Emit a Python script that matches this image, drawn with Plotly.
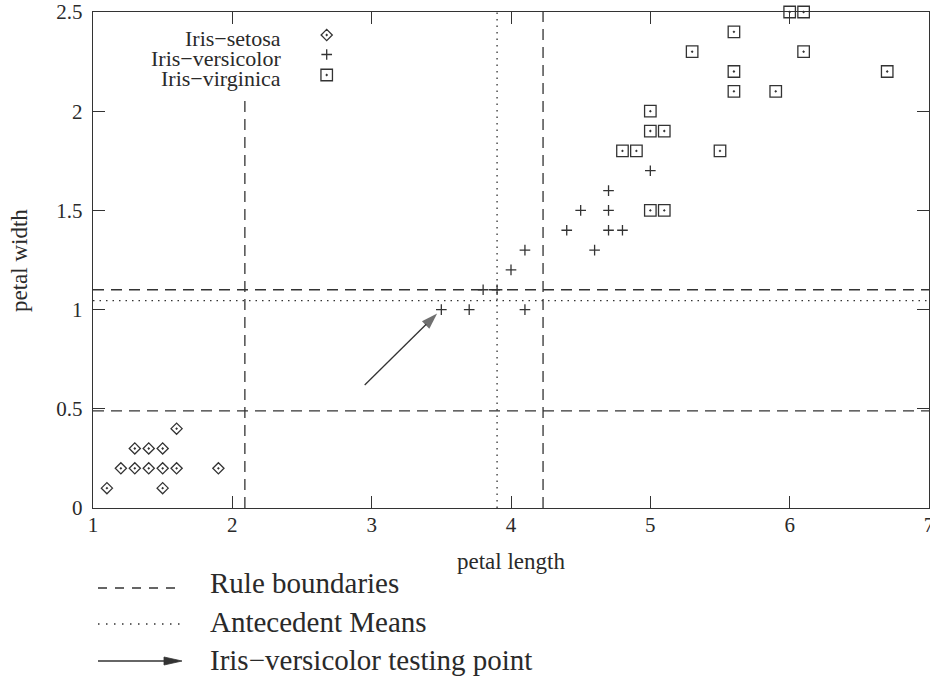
import plotly.graph_objects as go

# ---------------- data ----------------
setosa_x = [1.1, 1.5, 1.2, 1.3, 1.4, 1.5, 1.6, 1.9, 1.3, 1.4, 1.5, 1.6]
setosa_y = [0.1, 0.1, 0.2, 0.2, 0.2, 0.2, 0.2, 0.2, 0.3, 0.3, 0.3, 0.4]

versicolor_x = [3.5, 3.7, 4.1, 3.8, 3.9, 4.0, 4.1, 4.6, 4.4, 4.7, 4.8, 4.5, 4.7, 4.7, 5.0]
versicolor_y = [1.0, 1.0, 1.0, 1.1, 1.1, 1.2, 1.3, 1.3, 1.4, 1.4, 1.4, 1.5, 1.5, 1.6, 1.7]

virginica_x = [6.0, 6.1, 5.6, 5.3, 6.1, 5.6, 6.7, 5.6, 5.9, 5.0, 5.0, 5.1, 4.8, 4.9, 5.5, 5.0, 5.1]
virginica_y = [2.5, 2.5, 2.4, 2.3, 2.3, 2.2, 2.2, 2.1, 2.1, 2.0, 1.9, 1.9, 1.8, 1.8, 1.8, 1.5, 1.5]

species_names = ["Iris\u2212setosa", "Iris\u2212versicolor", "Iris\u2212virginica"]

# rule boundaries: vertical lines (x, top y) and horizontal lines (y)
rule_vx = [2.09, 4.23]
rule_vtop = [2.07, 2.5]
rule_hy = [0.49, 1.1]

# antecedent means
mean_x = [3.9]
mean_y = [1.045]

# testing-point arrow (tail -> tip)
arrow_x = [2.95, 3.47]
arrow_y = [0.62, 0.98]

x_ticks = [1, 2, 3, 4, 5, 6, 7]
x_tick_labels = ["1", "2", "3", "4", "5", "6", "7"]
y_ticks = [0, 0.5, 1, 1.5, 2, 2.5]
y_tick_labels = ["0", "0.5", "1", "1.5", "2", "2.5"]

bottom_legend = ["Rule boundaries", "Antecedent Means", "Iris\u2212versicolor testing point"]

# ---------------- style / layout ----------------
W, H = 930, 680
ML, MR, MT, MB = 93, 1, 12, 172
PW, PH = W - ML - MR, H - MT - MB
INK = "#333333"
TXT = "#2a2a2a"
FONT = "Liberation Serif"
DASH = "11px,7px"
DOT = "1.5px,5px"


def px(x):
    """page pixel x -> paper fraction"""
    return (x - ML) / PW


def py(y):
    """page pixel y -> paper fraction"""
    return (MT + PH - y) / PH


fig = go.Figure()

marker_common = dict(color=INK, line=dict(color=INK, width=1.3))
sym = ["diamond-open-dot", "cross-thin-open", "square-open-dot"]
sizes = [8.6, 7.6, 11.5]

for xs, ys, s, sz, name in zip([setosa_x, versicolor_x, virginica_x],
                               [setosa_y, versicolor_y, virginica_y],
                               sym, sizes, species_names):
    fig.add_trace(go.Scatter(
        x=xs, y=ys, mode="markers", name=name, showlegend=False,
        cliponaxis=False,
        marker=dict(symbol=s, size=sz, **marker_common),
    ))

# rule boundary lines (data coordinates)
for vx, vt in zip(rule_vx, rule_vtop):
    fig.add_shape(type="line", xref="x", yref="y", x0=vx, x1=vx, y0=0, y1=vt,
                  line=dict(color=INK, width=1.3, dash=DASH), layer="below")
for hy in rule_hy:
    fig.add_shape(type="line", xref="paper", yref="y", x0=0, x1=1, y0=hy, y1=hy,
                  line=dict(color=INK, width=1.3, dash=DASH), layer="below")
# antecedent means
for mx in mean_x:
    fig.add_shape(type="line", xref="x", yref="paper", x0=mx, x1=mx, y0=0, y1=1,
                  line=dict(color=INK, width=1.3, dash=DOT), layer="below")
for my in mean_y:
    fig.add_shape(type="line", xref="paper", yref="y", x0=0, x1=1, y0=my, y1=my,
                  line=dict(color=INK, width=1.3, dash=DOT), layer="below")

# testing-point arrow
fig.add_trace(go.Scatter(
    x=arrow_x, y=arrow_y, mode="lines+markers", showlegend=False, cliponaxis=False,
    line=dict(color=INK, width=1.3),
    marker=dict(symbol="arrow", size=[0, 17], angleref="previous", color=INK,
                line=dict(width=0)),
))

# ---------------- in-plot key (gnuplot style: text then symbol) ----------------
key_text_y = [38.5, 58.5, 78.5]
key_sym_y = [35, 54.5, 75]
for name, ty in zip(species_names, key_text_y):
    fig.add_annotation(x=px(283), y=py(ty), xref="paper", yref="paper",
                       text=name, showarrow=False, xanchor="right", yanchor="middle",
                       font=dict(family=FONT, size=22, color=TXT))
for s, sz, sy in zip(sym, sizes, key_sym_y):
    fig.add_trace(go.Scatter(
        x=[px(326.7)], y=[py(sy)], xaxis="x2", yaxis="y2", mode="markers",
        showlegend=False, cliponaxis=False,
        marker=dict(symbol=s, size=sz, **marker_common),
    ))

# ---------------- bottom legend ----------------
leg_line_y = [588, 624, 661]
leg_text_y = [583, 622, 660]
fig.add_shape(type="line", xref="paper", yref="paper", x0=px(98), x1=px(181),
              y0=py(leg_line_y[0]), y1=py(leg_line_y[0]),
              line=dict(color=INK, width=1.3, dash="9px,8px"))
fig.add_shape(type="line", xref="paper", yref="paper", x0=px(98), x1=px(181),
              y0=py(leg_line_y[1]), y1=py(leg_line_y[1]),
              line=dict(color=INK, width=1.3, dash="1.5px,6.5px"))
fig.add_shape(type="line", xref="paper", yref="paper", x0=px(98), x1=px(170),
              y0=py(leg_line_y[2]), y1=py(leg_line_y[2]),
              line=dict(color=INK, width=1.3))
fig.add_shape(type="path", xref="paper", yref="paper",
              path=(f"M {px(182)} {py(leg_line_y[2])} "
                    f"L {px(164)} {py(leg_line_y[2] - 4)} "
                    f"L {px(164)} {py(leg_line_y[2] + 4)} Z"),
              fillcolor=INK, line=dict(color=INK, width=0.8))
for t, ty in zip(bottom_legend, leg_text_y):
    fig.add_annotation(x=px(208), y=py(ty), xref="paper", yref="paper",
                       text=t, showarrow=False, xanchor="left", yanchor="middle",
                       font=dict(family=FONT, size=29, color=TXT))

# axis titles
fig.add_annotation(x=0.5, y=py(561), xref="paper", yref="paper", text="petal length",
                   showarrow=False, xanchor="center", yanchor="middle",
                   font=dict(family=FONT, size=23, color=TXT))
fig.add_annotation(x=px(19), y=py(261), xref="paper", yref="paper", text="petal width",
                   showarrow=False, xanchor="center", yanchor="middle", textangle=-90,
                   font=dict(family=FONT, size=23, color=TXT))

axis_common = dict(
    showline=True, linecolor=INK, linewidth=1.4, mirror="allticks",
    ticks="inside", ticklen=12, tickwidth=1.3, tickcolor=INK,
    showgrid=False, zeroline=False, ticklabeloverflow="allow",
    tickfont=dict(family=FONT, size=21, color=TXT),
)

fig.update_layout(
    width=W, height=H,
    margin=dict(l=ML, r=MR, t=MT, b=MB, autoexpand=False),
    paper_bgcolor="white", plot_bgcolor="white",
    showlegend=False,
    xaxis=dict(range=[1, 7], tickvals=x_ticks, ticktext=x_tick_labels,
               ticklabelstandoff=-2, **axis_common),
    yaxis=dict(range=[0, 2.5], tickvals=y_ticks, ticktext=y_tick_labels,
               ticklabelstandoff=5, **axis_common),
    xaxis2=dict(range=[0, 1], overlaying="x", visible=False),
    yaxis2=dict(range=[0, 1], overlaying="y", visible=False),
)

# remove the browser's default body margin so the 930x680 figure fills the window
fig.write_html(
    "out.html",
    config={"displayModeBar": False},
    post_script="document.body.style.margin='0';"
                "document.documentElement.style.overflow='hidden';",
)
